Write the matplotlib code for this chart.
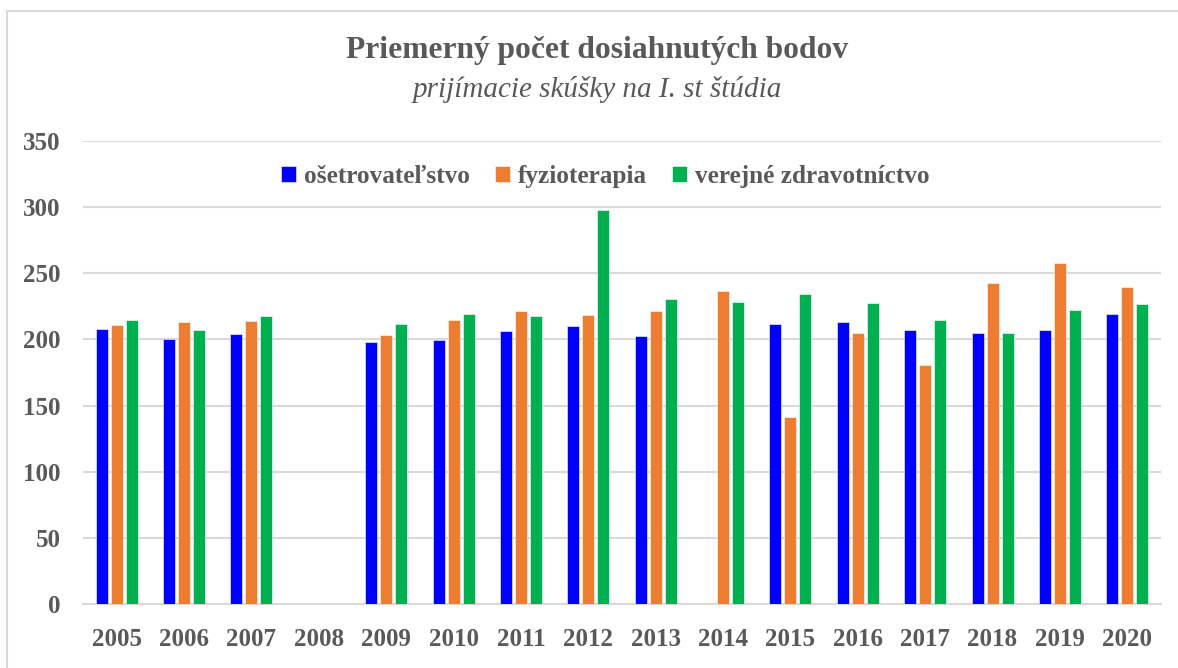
import matplotlib.pyplot as plt
from matplotlib.patches import Rectangle
import numpy as np

# data (nan = no bar)
years = ['2005', '2006', '2007', '2008', '2009', '2010', '2011', '2012',
         '2013', '2014', '2015', '2016', '2017', '2018', '2019', '2020']
nan = np.nan
osetrovatelstvo = [208, 200, 204, nan, 198, 199.5, 206, 210.5,
                   202.5, nan, 211.5, 213, 207.5, 205, 207, 219]
fyzioterapia = [211, 213.5, 214, nan, 203, 214.5, 221.5, 218.5,
                221.5, 236.5, 141, 204.5, 180.5, 243, 258, 240]
verejne_zdrav = [214.5, 207.5, 217.5, nan, 211.5, 219.5, 218, 297.5,
                 230.5, 228, 234, 227.5, 214.5, 204.5, 222.5, 226.5]

series = [('ošetrovateľstvo', osetrovatelstvo, '#0000FF'),
          ('fyzioterapia', fyzioterapia, '#ED7D31'),
          ('verejné zdravotníctvo', verejne_zdrav, '#00B050')]

text_col = '#595959'
plt.rcParams['font.family'] = ['Liberation Serif', 'DejaVu Serif']

fig = plt.figure(figsize=(11.78, 6.68), dpi=100)
ax = fig.add_axes([83 / 1178, 1 - 604 / 668, (1161 - 83) / 1178, (604 - 141) / 668])

x = np.arange(len(years))
w = 0.178
step = 0.223
for i, (name, vals, col) in enumerate(series):
    ax.bar(x + (i - 1) * step, vals, w, color=col, label=name,
           edgecolor='white', linewidth=0.4, zorder=3)

ax.set_xlim(-0.5, len(years) - 0.5)
ax.set_ylim(0, 350)
ax.set_yticks(range(0, 351, 50))
ax.set_xticks(x)
ax.set_xticklabels(years)
ax.yaxis.grid(True, color='#D9D9D9', linewidth=1.5, zorder=0)
ax.set_axisbelow(True)
for s in ['top', 'right', 'left']:
    ax.spines[s].set_visible(False)
ax.spines['bottom'].set_color('#D9D9D9')
ax.spines['bottom'].set_linewidth(1.5)
ax.tick_params(length=0, colors=text_col, labelsize=18)
ax.tick_params(axis='x', pad=17)
ax.tick_params(axis='y', pad=16)
for lbl in ax.get_xticklabels() + ax.get_yticklabels():
    lbl.set_fontweight('bold')

fig.text(0.507, 0.924, 'Priemerný počet dosiahnutých bodov', ha='center', va='center',
         fontsize=22.7, fontweight='bold', color=text_col)
fig.text(0.507, 0.866, 'prijímacie skúšky na I. st štúdia', ha='center', va='center',
         fontsize=21, style='italic', color=text_col)

leg = ax.legend(loc='center', bbox_to_anchor=(605 / 1178, 1 - 176 / 668),
                bbox_transform=fig.transFigure, ncol=3, frameon=False,
                prop={'weight': 'bold', 'size': 18.2}, handlelength=0.6,
                handleheight=0.6, handletextpad=0.3, columnspacing=1.0)
for t in leg.get_texts():
    t.set_color(text_col)

# light chart border
fig.patches.append(Rectangle((7 / 1178, -0.1), 1.2, 1 - 11.5 / 668 + 0.1,
                             transform=fig.transFigure, fill=False,
                             edgecolor='#D9D9D9', linewidth=1.5))

fig.savefig('out.png', dpi=100)
